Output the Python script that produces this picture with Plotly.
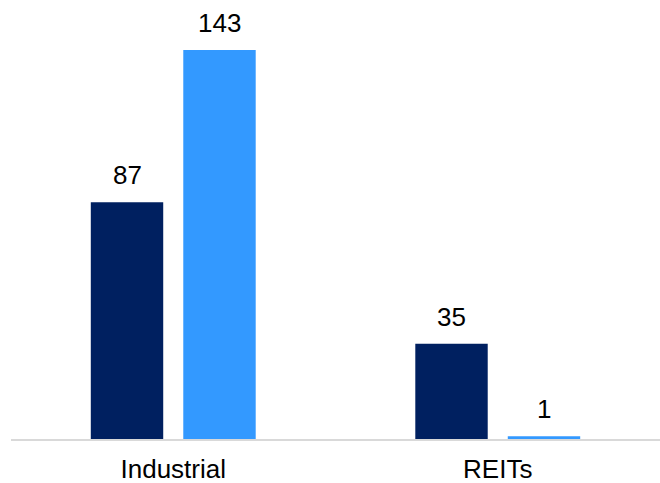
import plotly.graph_objects as go

categories = ["Industrial", "REITs"]
series_a = [87, 35]
series_b = [143, 1]
series_names = ["Series A", "Series B"]
colors = ["#002060", "#3399FF"]

BARGAP = 0.43
GROUPW = 1 - BARGAP
n_series = 2
slot = GROUPW / n_series

fig = go.Figure()
for k, (name, vals, col) in enumerate(zip(series_names, [series_a, series_b], colors)):
    fig.add_trace(go.Bar(
        x=categories, y=vals, name=name, marker_color=col, marker_line_width=0,
    ))
    off = -GROUPW / 2 + slot * (k + 0.5)
    for i, v in enumerate(vals):
        fig.add_annotation(
            x=i + off, y=v, xref="x", yref="y", text=str(v), showarrow=False,
            yanchor="bottom", yshift=10,
            font=dict(family="Liberation Sans, Arial", size=26, color="#000000"),
        )

fig.update_layout(
    width=660, height=483,
    margin=dict(l=11, r=0, t=0, b=44),
    barmode="group", bargap=BARGAP, bargroupgap=0.217,
    plot_bgcolor="white", paper_bgcolor="white",
    showlegend=False,
    font=dict(family="Liberation Sans, Arial", size=26, color="#000000"),
    xaxis=dict(showline=True, linecolor="#D9D9D9", linewidth=2, ticks="",
               ticklabelstandoff=6,
               tickfont=dict(size=26, color="#000000"), showgrid=False),
    yaxis=dict(visible=False, range=[0, 161.4], showgrid=False, zeroline=False),
)
fig.write_html("out.html")
